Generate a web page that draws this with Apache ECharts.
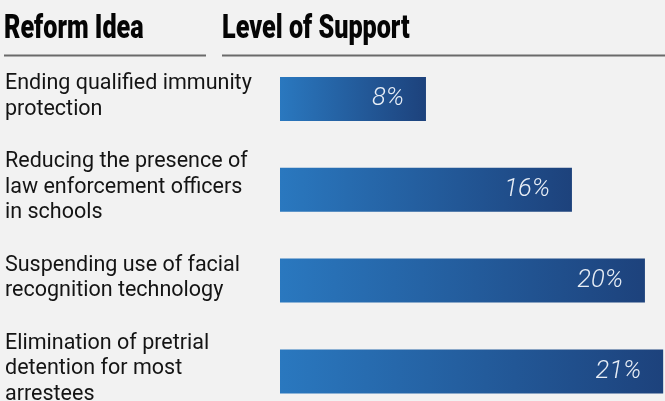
<!DOCTYPE html>
<html>
<head>
<meta charset="utf-8">
<script src="https://cdn.jsdelivr.net/npm/echarts@6/dist/echarts.min.js"></script>
<style>
  html, body { margin: 0; padding: 0; background: #f2f2f2; }
  #chart { width: 665px; height: 401px; }
</style>
</head>
<body>
<div id="chart"></div>
<script>
// Reform ideas (line-wrapped as displayed) and their share of support, in percent
const reformIdeas = [
  'Ending qualified immunity\nprotection',
  'Reducing the presence of\nlaw enforcement officers\nin schools',
  'Suspending use of facial\nrecognition technology',
  'Elimination of pretrial\ndetention for most\narrestees'
];
const supportPct = [8, 16, 20, 21];
const headerLeft = 'Reform Idea';
const headerRight = 'Level of Support';

const chart = echarts.init(document.getElementById('chart'), null, { renderer: 'canvas' });

const barGradient = new echarts.graphic.LinearGradient(0, 0, 1, 0, [
  { offset: 0, color: '#2a78bf' },
  { offset: 1, color: '#1d427c' }
]);

chart.setOption({
  backgroundColor: '#f2f2f2',
  animation: false,
  grid: {
    left: 280, top: 53.6, width: 385, height: 363.2,
    containLabel: false, outerBoundsMode: 'none'
  },
  xAxis: {
    type: 'value', min: 0, max: 21.1, show: false
  },
  yAxis: {
    type: 'category',
    data: reformIdeas,
    inverse: true,
    axisLine: { show: false },
    axisTick: { show: false },
    splitLine: { show: false },
    axisLabel: {
      align: 'left',
      margin: 275,
      fontFamily: 'Roboto',
      fontSize: 21.5,
      lineHeight: 25.5,
      color: '#141414',
      // a short spacer line below each label lifts the block slightly above the bar centre
      formatter: (v) => v + '\n{gap| }',
      rich: { gap: { fontSize: 4, lineHeight: 5 } }
    }
  },
  series: [{
    type: 'bar',
    data: supportPct,
    barWidth: 44,
    itemStyle: { color: barGradient },
    label: {
      show: true,
      position: 'insideRight',
      distance: 22,
      formatter: '{c}%',
      fontFamily: 'Roboto',
      fontStyle: 'italic',
      fontWeight: 300,
      fontSize: 25.5,
      color: '#e8eef6'
    }
  }],
  graphic: [
    {
      type: 'text', x: 4, y: 12, scaleX: 0.74,
      style: {
        text: headerLeft, x: 0, y: 0,
        font: '900 34px Roboto', fill: '#050505',
        verticalAlign: 'top'
      }
    },
    {
      type: 'text', x: 222, y: 12, scaleX: 0.74,
      style: {
        text: headerRight, x: 0, y: 0,
        font: '900 34px Roboto', fill: '#050505',
        verticalAlign: 'top'
      }
    },
    {
      type: 'line',
      shape: { x1: 4, y1: 55.5, x2: 206, y2: 55.5 },
      style: { stroke: '#6a6a6a', lineWidth: 2 }
    },
    {
      type: 'line',
      shape: { x1: 222, y1: 55.5, x2: 665, y2: 55.5 },
      style: { stroke: '#6a6a6a', lineWidth: 2 }
    }
  ]
});
</script>
</body>
</html>
